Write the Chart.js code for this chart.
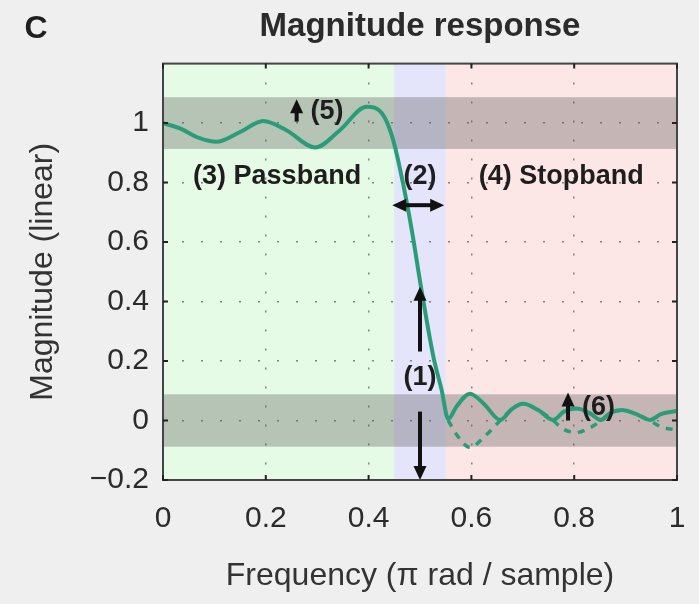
<!DOCTYPE html>
<html><head><meta charset="utf-8">
<script src="https://cdn.jsdelivr.net/npm/chart.js@4.4.0/dist/chart.umd.min.js"></script>
<style>html,body{margin:0;padding:0;background:#efefef;}canvas{display:block;}</style>
</head><body>
<canvas id="c" width="699" height="604"></canvas>
<script>
// ---- data ----
const freq = [0.000,0.033,0.070,0.104,0.150,0.195,0.240,0.296,0.344,0.396,0.429,0.448,0.467,0.484,0.503,0.526,0.542,0.555,0.571,0.597,0.625,0.656,0.680,0.701,0.730,0.759,0.780,0.805,0.830,0.852,0.870,0.893,0.920,0.947,0.970,1.000];
const magnitude = [1.000,0.982,0.950,0.937,0.970,1.007,0.976,0.918,0.976,1.055,1.025,0.942,0.797,0.640,0.438,0.215,0.103,0.005,0.047,0.090,0.055,0.002,0.040,0.056,0.035,0.002,0.030,0.040,0.025,0.002,0.025,0.035,0.022,0.002,0.022,0.032];
const stopFreq = [0.555,0.571,0.597,0.625,0.656,0.680,0.701,0.730,0.759,0.780,0.805,0.830,0.852,0.870,0.893,0.920,0.947,0.970,1.000];
const stopAmplitude = [0.000,-0.047,-0.090,-0.055,0.000,0.040,0.056,0.035,0.000,-0.030,-0.040,-0.025,0.000,0.025,0.035,0.022,0.000,-0.022,-0.032];
const xTicks = [0,0.2,0.4,0.6,0.8,1];
const xTickLabels = ['0','0.2','0.4','0.6','0.8','1'];
const yTicks = [-0.2,0,0.2,0.4,0.6,0.8,1];
const yTickLabels = ['\u22120.2','0','0.2','0.4','0.6','0.8','1'];
const bandEdges = [0,0.45,0.55,1];           // passband | transition | stopband
const rippleBands = [[0.913,1.087],[-0.088,0.088]];
const annotArrows = [
  {from:[0.26,1.005], to:[0.26,1.08], both:false},
  {from:[0.788,0.0], to:[0.788,0.094], both:false},
  {from:[0.446,0.724], to:[0.547,0.724], both:true},
  {from:[0.5,0.232], to:[0.5,0.45], both:false},
  {from:[0.5,0.03], to:[0.5,-0.2], both:false}
];
const annotTexts = [
  {text:'(3) Passband', at:[0.222,0.82], align:'center'},
  {text:'(2)', at:[0.5,0.82], align:'center'},
  {text:'(4) Stopband', at:[0.775,0.82], align:'center'},
  {text:'(5)', at:[0.287,1.038], align:'left'},
  {text:'(1)', at:[0.5,0.143], align:'center'},
  {text:'(6)', at:[0.815,0.042], align:'left'}
];

const FONT = '"Liberation Sans", Arial, Helvetica, sans-serif';
Chart.defaults.font.family = FONT;
Chart.defaults.color = '#2b2b2b';

function drawArrow(ctx, x0, y0, x1, y1, both){
  const L = 14, W = 6.5;
  const ang = Math.atan2(y1 - y0, x1 - x0);
  const cx = Math.cos(ang), sy = Math.sin(ang);
  const sx0 = both ? x0 + cx*L*0.8 : x0, sy0 = both ? y0 + sy*L*0.8 : y0;
  const sx1 = x1 - cx*L*0.8, sy1 = y1 - sy*L*0.8;
  ctx.beginPath(); ctx.moveTo(sx0, sy0); ctx.lineTo(sx1, sy1); ctx.stroke();
  const head = (tx, ty, a) => {
    ctx.beginPath();
    ctx.moveTo(tx, ty);
    ctx.lineTo(tx - Math.cos(a)*L + Math.sin(a)*W, ty - Math.sin(a)*L - Math.cos(a)*W);
    ctx.lineTo(tx - Math.cos(a)*L - Math.sin(a)*W, ty - Math.sin(a)*L + Math.cos(a)*W);
    ctx.closePath(); ctx.fill();
  };
  head(x1, y1, ang);
  if (both) head(x0, y0, ang + Math.PI);
}

const deco = {
  id: 'deco',
  beforeDraw(chart){
    const {ctx, chartArea:a, scales:{x, y}} = chart;
    ctx.save();
    ctx.fillStyle = '#efefef';
    ctx.fillRect(0, 0, chart.width, chart.height);
    const cols = ['#e6fbe6', '#e4e4fb', '#fde6e6'];
    for (let i = 0; i < 3; i++) {
      const x0 = x.getPixelForValue(bandEdges[i]), x1 = x.getPixelForValue(bandEdges[i+1]);
      ctx.fillStyle = cols[i];
      ctx.fillRect(x0, a.top, x1 - x0, a.bottom - a.top);
    }
    ctx.fillStyle = 'rgba(70,70,70,0.30)';
    rippleBands.forEach(([lo, hi]) => {
      const y0 = y.getPixelForValue(hi), y1 = y.getPixelForValue(lo);
      ctx.fillRect(a.left, y0, a.right - a.left, y1 - y0);
    });
    ctx.restore();
  },
  afterDatasetsDraw(chart){
    const {ctx, scales:{x, y}} = chart;
    ctx.save();
    ctx.strokeStyle = '#111'; ctx.fillStyle = '#111'; ctx.lineWidth = 4;
    annotArrows.forEach(ar => {
      drawArrow(ctx, x.getPixelForValue(ar.from[0]), y.getPixelForValue(ar.from[1]),
                     x.getPixelForValue(ar.to[0]), y.getPixelForValue(ar.to[1]), ar.both);
    });
    ctx.fillStyle = '#1e1e1e';
    ctx.font = 'bold 27px ' + FONT;
    ctx.textBaseline = 'middle';
    annotTexts.forEach(t => {
      ctx.textAlign = t.align;
      ctx.fillText(t.text, x.getPixelForValue(t.at[0]), y.getPixelForValue(t.at[1]));
    });
    ctx.restore();
  },
  afterDraw(chart){
    const {ctx, chartArea:a, scales:{x, y}} = chart;
    ctx.save();
    ctx.strokeStyle = '#454545'; ctx.lineWidth = 2;
    ctx.strokeRect(a.left, a.top, a.right - a.left, a.bottom - a.top);
    ctx.strokeStyle = '#222'; ctx.lineWidth = 2;
    const tl = 5;
    xTicks.forEach(v => {
      const px = x.getPixelForValue(v);
      ctx.beginPath(); ctx.moveTo(px, a.bottom); ctx.lineTo(px, a.bottom - tl);
      ctx.moveTo(px, a.top); ctx.lineTo(px, a.top + tl); ctx.stroke();
    });
    yTicks.forEach(v => {
      const py = y.getPixelForValue(v);
      ctx.beginPath(); ctx.moveTo(a.left, py); ctx.lineTo(a.left + tl, py);
      ctx.moveTo(a.right, py); ctx.lineTo(a.right - tl, py); ctx.stroke();
    });
    ctx.fillStyle = '#1e1e1e';
    ctx.font = 'bold 32px ' + FONT;
    ctx.textAlign = 'center'; ctx.textBaseline = 'middle';
    ctx.fillText('C', 36, 29);
    ctx.restore();
  }
};

new Chart(document.getElementById('c'), {
  type: 'line',
  data: {
    datasets: [
      {data: stopFreq.map((f, i) => ({x: f, y: stopAmplitude[i]})), borderColor: '#2a9d78', borderWidth: 3.5,
       borderDash: [7, 7], pointRadius: 0, cubicInterpolationMode: 'monotone', order: 2},
      {data: freq.map((f, i) => ({x: f, y: magnitude[i]})), borderColor: '#2a9d78', borderWidth: 4,
       pointRadius: 0, cubicInterpolationMode: 'monotone', order: 1}
    ]
  },
  options: {
    responsive: false, animation: false,
    layout: {padding: {left: 0, right: 22, top: 0, bottom: 0}},
    plugins: {
      legend: {display: false}, tooltip: {enabled: false},
      title: {display: true, text: 'Magnitude response', fullSize: false, color: '#2b2b2b',
              font: {size: 33, weight: 'bold'}, padding: {top: 7, bottom: 17}}
    },
    scales: {
      x: {
        type: 'linear', min: 0, max: 1,
        afterBuildTicks: s => { s.ticks = xTicks.map(v => ({value: v})); },
        afterFit: s => { s.height = 124; s.paddingRight = 0; s.paddingLeft = 0; },
        ticks: {callback: (v, i) => xTickLabels[i], font: {size: 30}, padding: 21, maxRotation: 0, color: '#2b2b2b'},
        grid: {color: 'rgba(95,95,95,0.75)', lineWidth: 1.5, drawTicks: false},
        border: {display: false, dash: [2, 17]},
        title: {display: true, text: 'Frequency (\u03c0 rad / sample)', font: {size: 32}, color: '#333', padding: {top: 0, bottom: 9}}
      },
      y: {
        type: 'linear', min: -0.2, max: 1.2,
        afterBuildTicks: s => { s.ticks = yTicks.map(v => ({value: v})); },
        afterFit: s => { s.width = 163; },
        ticks: {callback: (v, i) => yTickLabels[i], font: {size: 30}, padding: 14, color: '#2b2b2b'},
        grid: {color: 'rgba(95,95,95,0.75)', lineWidth: 1.5, drawTicks: false},
        border: {display: false, dash: [2, 17]},
        title: {display: true, text: 'Magnitude (linear)', font: {size: 32}, color: '#333', padding: {top: 24, bottom: 0}}
      }
    }
  },
  plugins: [deco]
});
</script>
</body></html>
